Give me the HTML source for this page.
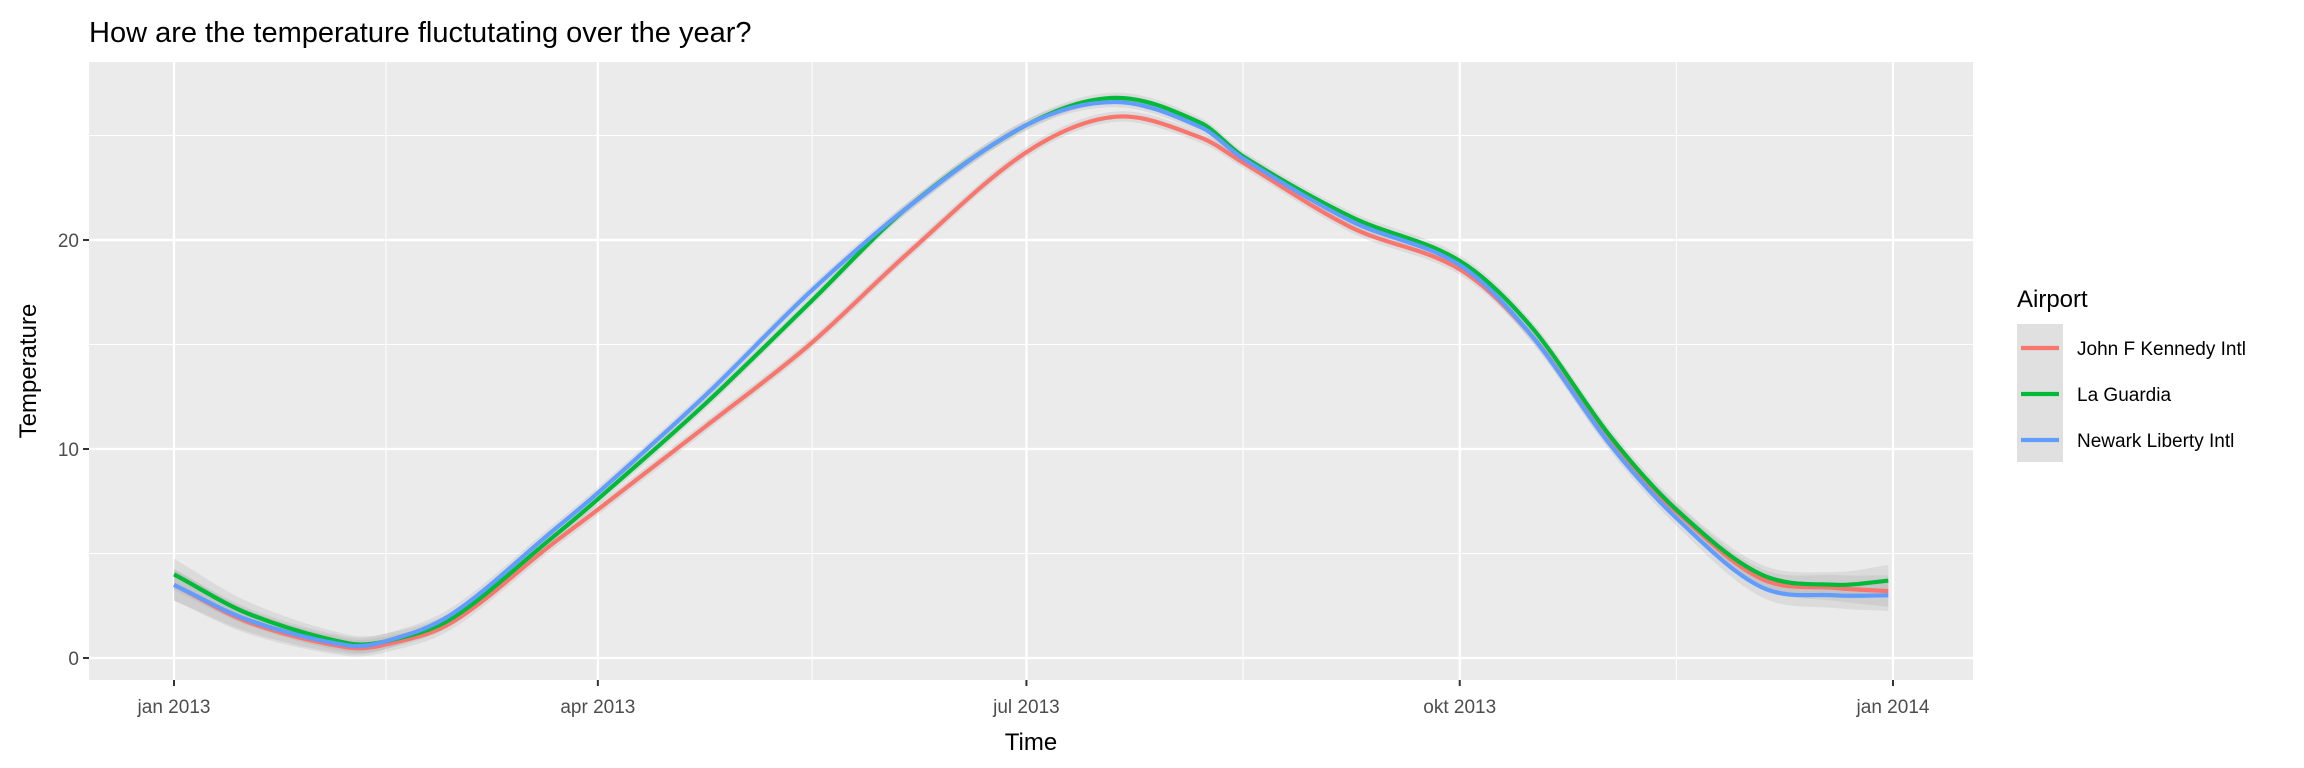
<!DOCTYPE html>
<html><head><meta charset="utf-8"><style>
body{margin:0;background:#fff;}
svg{display:block;font-family:"Liberation Sans",Arial,sans-serif;}
</style></head><body>
<svg id="chart" width="2304" height="768">
<text x="89" y="42" font-size="29" fill="#000">How are the temperature fluctutating over the year?</text>
<rect x="89" y="62" width="1884" height="618" fill="#EBEBEB"/>
<g id="grid"></g><g id="bands"></g><g id="lines"></g><g id="axes"></g>
<text x="1031" y="750" font-size="24" text-anchor="middle" fill="#000">Time</text>
<text transform="translate(36,371) rotate(-90)" font-size="24" text-anchor="middle" fill="#000">Temperature</text>
<g>
<text x="2017" y="307" font-size="24" fill="#000">Airport</text>
<rect x="2017" y="324" width="46" height="138" fill="#E0E0E0"/>
<g id="legend"></g>
</g>
</svg>
<script>
const days=[0,16,37,45,59,80,90,113,135,156,181,200,218,227,250,273,288,305,319,337,353,364];
const jfk=[3.5,1.7,0.5,0.65,1.7,5.4,7.1,11.1,15.0,19.4,24.2,25.9,24.9,23.7,20.6,18.6,15.5,10.3,7.0,3.8,3.35,3.2];
const lga=[4.0,2.1,0.7,0.8,1.9,5.7,7.6,12.2,17.0,21.6,25.5,26.8,25.6,24.0,21.1,19.0,15.9,10.6,7.1,4.0,3.5,3.7];
const ewr=[3.5,1.8,0.6,0.8,2.1,6.0,7.9,12.6,17.5,21.6,25.5,26.6,25.4,23.9,20.9,18.8,15.5,10.2,6.7,3.4,3.0,3.0];
const seriesNames=["John F Kennedy Intl","La Guardia","Newark Liberty Intl"];
const seriesColors=["#F8766D","#00BA38","#619CFF"];
const yTicks=[0,10,20];
const yMinor=[5,15,25];
const xTickDays=[0,90,181,273,365];
const xTickLabels=["jan 2013","apr 2013","jul 2013","okt 2013","jan 2014"];
const xMinorDays=[45,135.5,227,319];

const NS="http://www.w3.org/2000/svg";
const X=d=>174+d*(1893-174)/365;
const Y=v=>658-v*20.9;
function mk(tag,attrs,parent){const e=document.createElementNS(NS,tag);for(const k in attrs)e.setAttribute(k,attrs[k]);parent.appendChild(e);return e;}
const grid=document.getElementById('grid'),axes=document.getElementById('axes');
yMinor.forEach(v=>{const l=mk('line',{x1:89,x2:1973,y1:Y(v),y2:Y(v),stroke:'#fff','stroke-width':1},grid);

});
xMinorDays.forEach(d=>{const l=mk('line',{x1:X(d),x2:X(d),y1:62,y2:680,stroke:'#fff','stroke-width':1},grid);

});
yTicks.forEach(v=>{const l=mk('line',{x1:89,x2:1973,y1:Y(v),y2:Y(v),stroke:'#fff','stroke-width':2.2},grid);


const t=mk('line',{x1:83,x2:89,y1:Y(v),y2:Y(v),stroke:'#333','stroke-width':2},axes);


const tx=mk('text',{x:79,y:Y(v)+7,'font-size':19,'text-anchor':'end',fill:'#4D4D4D'},axes);tx.textContent=v;

});
xTickDays.forEach((d,i)=>{const l=mk('line',{x1:X(d),x2:X(d),y1:62,y2:680,stroke:'#fff','stroke-width':2.2},grid);


const t=mk('line',{x1:X(d),x2:X(d),y1:680,y2:686,stroke:'#333','stroke-width':2},axes);


const tx=mk('text',{x:X(d),y:713,'font-size':19,'text-anchor':'middle',fill:'#4D4D4D'},axes);tx.textContent=xTickLabels[i];

});
function smooth(pts){let d='M'+pts[0][0]+','+pts[0][1];
const n=pts.length,m=[];
for(let i=0;i<n;i++){const a=pts[Math.max(0,i-1)],b=pts[Math.min(n-1,i+1)];m.push((b[1]-a[1])/(b[0]-a[0]));}
for(let i=0;i<n-1;i++){const p1=pts[i],p2=pts[i+1],h=(p2[0]-p1[0])/3;
d+=' C'+(p1[0]+h)+','+(p1[1]+m[i]*h)+' '+(p2[0]-h)+','+(p2[1]-m[i+1]*h)+' '+p2[0]+','+p2[1];}
return d;}
const all=[jfk,lga,ewr];
const bands=document.getElementById('bands'),lines=document.getElementById('lines'),leg=document.getElementById('legend');
const names=['jfk','la-guardia','newark'];
all.forEach((s,si)=>{
  const w=days.map(d=>0.25+0.5*Math.pow(Math.abs(d-182)/182,5));
  const up=days.map((d,i)=>[X(d),Y(s[i]+w[i])]);
  const dn=days.map((d,i)=>[X(d),Y(s[i]-w[i])]).reverse();
  const b=mk('path',{d:smooth(up)+' L'+smooth(dn).slice(1)+' Z',fill:'#999','fill-opacity':0.2},bands);
  
  
  const p=mk('path',{d:smooth(days.map((d,i)=>[X(d),Y(s[i])])),fill:'none',stroke:seriesColors[si],'stroke-width':4.2},lines);
  
  
  const cy=348+si*46;
  const kl=mk('line',{x1:2021,x2:2059,y1:cy,y2:cy,stroke:seriesColors[si],'stroke-width':4.2},leg);
  
  
  const t=mk('text',{x:2077,y:cy+7,'font-size':19,fill:'#000'},leg);t.textContent=seriesNames[si];
  
  
});
</script>
</body></html>
